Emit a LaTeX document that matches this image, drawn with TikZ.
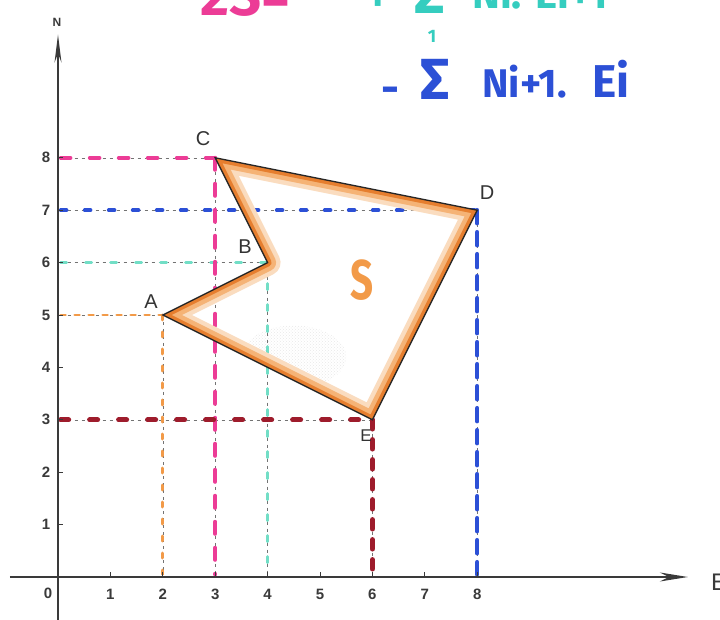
\documentclass[tikz,border=0pt]{standalone}
\usepackage{fontspec}
\setmainfont{Liberation Sans}
\newfontfamily\hand{Fira Sans}
\usetikzlibrary{arrows.meta,patterns}
\definecolor{pinkc}{HTML}{EC3C96}
\definecolor{bluec}{HTML}{2C50D6}
\definecolor{tealc}{HTML}{4FD6B8}
\definecolor{tealt}{HTML}{35CDBF}
\definecolor{orangec}{HTML}{F29A48}
\definecolor{oranged}{HTML}{E67E2E}
\definecolor{redc}{HTML}{9E1C2C}
\definecolor{axisc}{HTML}{3A3A3A}
\definecolor{labc}{HTML}{333333}
\tikzset{
  axisline/.style={axisc, line width=1.6pt},
  tickline/.style={axisc, line width=0.8pt},
  ticklab/.style={text=axisc, font=\bfseries\fontsize{15}{15}\selectfont, inner sep=0pt},
  ptlab/.style={text=labc, font=\fontsize{20}{20}\selectfont, inner sep=0pt},
  pencil/.style={black!55, line width=0.5pt, dash pattern=on 3pt off 4pt},
  pinkh/.style={pinkc, line width=3.5pt, line cap=round, dash pattern=on 10pt off 19pt},
  pinkv/.style={pinkc, line width=4pt, line cap=round, dash pattern=on 12pt off 14pt},
  blueh/.style={bluec, line width=3.5pt, line cap=round, dash pattern=on 6pt off 18pt},
  bluev/.style={bluec, line width=4.5pt, line cap=round, dash pattern=on 13pt off 9pt},
  tealh/.style={tealc!80, line width=3pt, line cap=round, dash pattern=on 6pt off 19pt},
  tealv/.style={tealc!80, line width=3pt, line cap=round, dash pattern=on 6pt off 15pt},
  orangeh/.style={orangec, line width=2.5pt, line cap=round, dash pattern=on 5pt off 9pt},
  orangev/.style={orangec, line width=3pt, line cap=round, dash pattern=on 5pt off 12pt},
  redh/.style={redc, line width=5pt, line cap=round, dash pattern=on 8pt off 21pt},
  redv/.style={redc, line width=5.5pt, line cap=round, dash pattern=on 9pt off 11pt},
  handtxt/.style={font=\hand\bfseries, inner sep=0pt},
}
\begin{document}
\begin{tikzpicture}[x=1pt,y=1pt]
\useasboundingbox (0,0) rectangle (720,619);
\clip (0,0) rectangle (720,619);
\fill[white] (0,0) rectangle (720,619);

% ---------- formula (top line partly cut off) ----------
\node[handtxt, text=pinkc, anchor=base west, font=\hand\bfseries\fontsize{56}{56}\selectfont] (f2s) at (200,603) {2S=};
\node[handtxt, text=tealt, anchor=south, font=\hand\bfseries\fontsize{44}{44}\selectfont] (fplus) at (378,607) {+};
\node[handtxt, text=tealt, anchor=base west, font=\hand\bfseries\fontsize{60}{60}\selectfont] (fsig1) at (414,605) {Σ};
\node[handtxt, text=tealt, font=\hand\bfseries\fontsize{18}{18}\selectfont] (fone) at (432,583) {1};
\node[handtxt, text=tealt, anchor=base west, font=\hand\bfseries\fontsize{42}{42}\selectfont] (fnei) at (472,610) {Ni. Ei+1};

\node[handtxt, text=bluec, font=\hand\bfseries\fontsize{44}{44}\selectfont] (fminus) at (390,524) {-};
\node[handtxt, text=bluec, anchor=base west, font=\hand\bfseries\fontsize{58}{58}\selectfont] (fsig2) at (420,519) {Σ};
\node[handtxt, text=bluec, anchor=base west, font=\hand\bfseries\fontsize{40}{40}\selectfont] (fni) at (482,521) {Ni+1.};
\node[handtxt, text=bluec, anchor=base west, font=\hand\bfseries\fontsize{46}{46}\selectfont] (fei) at (592,521) {Ei};

% ---------- axis labels ----------
\node[text=axisc, font=\bfseries\fontsize{12}{12}\selectfont, inner sep=0pt] (Nlab) at (57,597) {N};
\node[text=axisc, font=\fontsize{24}{24}\selectfont, inner sep=0pt, anchor=west] (Elab) at (711,37) {E};

\begin{scope}[shift={(58,42)}, x=52.4pt, y=52.4pt]
  \coordinate (O) at (0,0);
  \coordinate (xs) at (-0.92,0);
  \coordinate (xe) at (12.02,0);
  \coordinate (ys) at (0,-0.85);
  \coordinate (ye) at (0,10.35);
  \coordinate (A) at (2,5);
  \coordinate (B) at (4,6);
  \coordinate (C) at (3,8);
  \coordinate (D) at (8,7);
  \coordinate (E) at (6,3);
  % feet on the axes
  \coordinate (Ay) at (0.05,5);  \coordinate (Ax) at (2,0.05);
  \coordinate (By) at (0.05,6);  \coordinate (Bx) at (4,0.05);
  \coordinate (Cy) at (0.05,8);  \coordinate (Cx) at (3,0.05);
  \coordinate (Dy) at (0.05,7);  \coordinate (Dx) at (8,0.05);
  \coordinate (Ey) at (0.05,3);  \coordinate (Ex) at (6,0.05);

  % light interior stipple
  \begin{scope}
    \clip (A)--(B)--(C)--(D)--(E)--cycle;
    \fill[pattern=crosshatch dots, pattern color=gray!18] (4.5,4.2) ellipse (1.0 and 0.6);
  \end{scope}

  % pencil construction lines
  \foreach \p in {A,B,C,D,E} {
    \draw[pencil] (\p y) -- (\p);
    \draw[pencil] (\p) -- (\p x);
  }

  % coloured projection lines
  \draw[orangeh] (Ay) -- (A);
  \draw[orangev] (A) -- (Ax);
  \draw[tealh] (By) -- (B);
  \draw[tealv] (B) -- (Bx);
  \draw[blueh] (Dy) -- (D);
  \draw[bluev] (D) -- (Dx);
  \draw[pinkh] (Cy) -- (C);
  \draw[pinkv] (C) -- (Cx);
  \draw[redh] (Ey) -- (E);
  \draw[redv] (E) -- (Ex);

  % orange shaded border of S
  \begin{scope}
    \clip (A)--(B)--(C)--(D)--(E)--cycle;
    \draw[orangec!35, line width=26pt, line join=round] (A)--(B)--(C)--(D)--(E)--cycle;
    \draw[orangec!75, line width=17pt, line join=round] (A)--(B)--(C)--(D)--(E)--cycle;
    \draw[oranged, line width=8pt, line join=round] (A)--(B)--(C)--(D)--(E)--cycle;
  \end{scope}
  \draw[black!85, line width=1.3pt, line join=miter] (A)--(B)--(C)--(D)--(E)--cycle;

  % axes
  \draw[axisline, -{Stealth[length=28pt, width=9pt]}] (xs) -- (xe);
  \draw[axisline, -{Stealth[length=28pt, width=7pt]}] (ys) -- (ye);
  \foreach \k in {1,...,8} {
    \draw[tickline] (\k,0) -- (\k,0.09);
    \draw[tickline] (0,\k) -- (0.1,\k);
    \node[ticklab] (xl\k) at (\k,-0.33) {\k};
    \node[ticklab] (yl\k) at (-0.23,\k) {\k};
  }
  \node[ticklab] (zl) at (-0.19,-0.32) {0};

  % point labels
  \node[ptlab] (lA) at (1.775,5.25) {A};
  \node[ptlab] (lB) at (3.57,6.30) {B};
  \node[ptlab] (lC) at (2.77,8.36) {C};
  \node[ptlab] (lD) at (8.19,7.33) {D};
  \node[ptlab, font=\fontsize{17}{17}\selectfont] (lE) at (5.88,2.69) {E};
  \node[text=orangec, inner sep=0pt, font=\hand\bfseries\fontsize{56}{56}\selectfont] (lS) at (5.80,5.67) {\scalebox{0.72}[1]{S}};
\end{scope}
\end{tikzpicture}
\end{document}
